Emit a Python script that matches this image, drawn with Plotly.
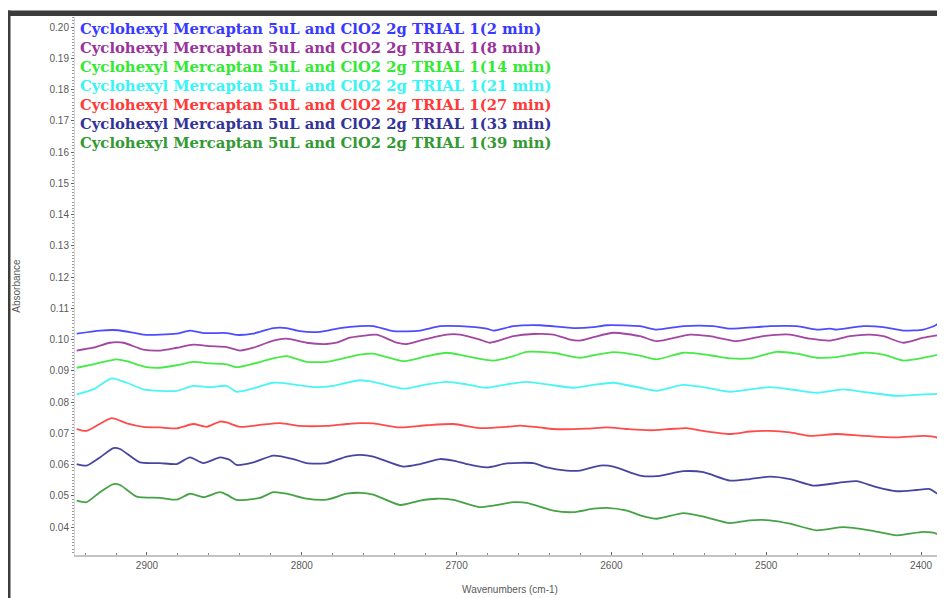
import plotly.graph_objects as go

# ---------------- data ----------------
labels = [
    "Cyclohexyl Mercaptan 5uL and ClO2 2g TRIAL 1(2 min)",
    "Cyclohexyl Mercaptan 5uL and ClO2 2g TRIAL 1(8 min)",
    "Cyclohexyl Mercaptan 5uL and ClO2 2g TRIAL 1(14 min)",
    "Cyclohexyl Mercaptan 5uL and ClO2 2g TRIAL 1(21 min)",
    "Cyclohexyl Mercaptan 5uL and ClO2 2g TRIAL 1(27 min)",
    "Cyclohexyl Mercaptan 5uL and ClO2 2g TRIAL 1(33 min)",
    "Cyclohexyl Mercaptan 5uL and ClO2 2g TRIAL 1(39 min)",
]
colors = ["#3a3aff", "#993399", "#33e833", "#38f4f4", "#ff3838", "#333399", "#339933"]

wn_2min = [2945.4, 2930.4, 2918.5, 2902.4, 2891.6, 2880.8, 2872.2, 2863.6, 2848.5, 2842.1, 2831.3,
           2818.4, 2809.8, 2801.2, 2788.2, 2775.3, 2762.4, 2753.8, 2740.8, 2723.6, 2710.7, 2697.8,
           2680.6, 2676.2, 2663.3, 2646.1, 2624.6, 2611.6, 2603.0, 2581.5, 2570.8, 2553.5, 2534.2,
           2523.4, 2506.2, 2497.6, 2480.3, 2467.4, 2458.8, 2454.5, 2437.3, 2424.3, 2411.4, 2398.5,
           2389.9, 2384.5]
abs_2min = [0.1019, 0.1029, 0.1030, 0.1016, 0.1016, 0.1019, 0.1029, 0.1021, 0.1021, 0.1015, 0.1019,
            0.1037, 0.1037, 0.1027, 0.1025, 0.1037, 0.1043, 0.1043, 0.1027, 0.1029, 0.1043, 0.1043,
            0.1035, 0.1029, 0.1043, 0.1046, 0.1037, 0.1040, 0.1046, 0.1043, 0.1032, 0.1043, 0.1043,
            0.1035, 0.1040, 0.1043, 0.1043, 0.1032, 0.1035, 0.1032, 0.1043, 0.1040, 0.1029, 0.1032,
            0.1048, 0.1084]

wn_8min = [2945.4, 2934.7, 2923.9, 2915.3, 2902.4, 2891.6, 2880.8, 2870.1, 2859.3, 2848.5, 2839.9,
           2831.3, 2818.4, 2809.8, 2796.9, 2784.0, 2777.5, 2769.0, 2762.4, 2751.6, 2738.7, 2732.2,
           2723.6, 2706.4, 2697.8, 2684.9, 2678.4, 2663.3, 2650.4, 2637.5, 2626.7, 2620.3, 2611.6,
           2598.7, 2581.5, 2570.8, 2549.2, 2536.3, 2519.1, 2501.9, 2484.6, 2471.7, 2458.8, 2445.9,
           2433.0, 2424.3, 2411.4, 2398.5, 2387.7, 2384.5]
abs_8min = [0.0965, 0.0974, 0.0990, 0.0990, 0.0968, 0.0965, 0.0974, 0.0984, 0.0979, 0.0976, 0.0965,
            0.0974, 0.0997, 0.1003, 0.0990, 0.0986, 0.0990, 0.1006, 0.1011, 0.1016, 0.0990, 0.0986,
            0.0997, 0.1016, 0.1016, 0.1000, 0.0990, 0.1011, 0.1018, 0.1016, 0.1000, 0.0997, 0.1008,
            0.1022, 0.1011, 0.0995, 0.1016, 0.1011, 0.0995, 0.1011, 0.1016, 0.1003, 0.0997, 0.1011,
            0.1016, 0.1011, 0.0990, 0.1006, 0.1016, 0.1027]

wn_14min = [2945.4, 2934.7, 2919.6, 2913.1, 2900.2, 2891.6, 2880.8, 2870.1, 2859.3, 2848.5, 2842.1,
            2831.3, 2818.4, 2809.8, 2796.9, 2784.0, 2773.2, 2762.4, 2753.8, 2734.4, 2719.3, 2706.4,
            2693.5, 2676.2, 2663.3, 2654.7, 2637.5, 2620.3, 2611.6, 2598.7, 2581.5, 2570.8, 2553.5,
            2536.3, 2523.4, 2510.5, 2493.3, 2480.3, 2467.4, 2454.5, 2437.3, 2424.3, 2411.4, 2398.5,
            2387.7, 2384.5]
abs_14min = [0.0910, 0.0921, 0.0937, 0.0931, 0.0912, 0.0910, 0.0918, 0.0929, 0.0924, 0.0921, 0.0912,
             0.0923, 0.0940, 0.0947, 0.0929, 0.0929, 0.0940, 0.0952, 0.0955, 0.0931, 0.0947, 0.0958,
             0.0947, 0.0933, 0.0947, 0.0961, 0.0958, 0.0942, 0.0950, 0.0960, 0.0949, 0.0937, 0.0958,
             0.0950, 0.0940, 0.0940, 0.0961, 0.0955, 0.0942, 0.0944, 0.0958, 0.0952, 0.0933, 0.0942,
             0.0955, 0.0979]

wn_21min = [2945.4, 2934.7, 2922.8, 2913.1, 2902.4, 2891.6, 2880.8, 2870.1, 2859.3, 2848.5, 2842.1,
            2831.3, 2818.4, 2805.5, 2792.5, 2779.6, 2771.0, 2762.4, 2753.8, 2734.4, 2719.3, 2706.4,
            2693.5, 2680.6, 2667.6, 2654.7, 2641.8, 2624.6, 2611.6, 2598.7, 2581.5, 2570.8, 2553.5,
            2536.3, 2523.4, 2510.5, 2497.6, 2480.3, 2467.4, 2450.2, 2437.3, 2415.7, 2398.5, 2384.5]
abs_21min = [0.0825, 0.0841, 0.0876, 0.0862, 0.0841, 0.0836, 0.0836, 0.0852, 0.0848, 0.0852, 0.0833,
             0.0844, 0.0862, 0.0857, 0.0848, 0.0852, 0.0862, 0.0870, 0.0865, 0.0843, 0.0857, 0.0865,
             0.0857, 0.0846, 0.0857, 0.0865, 0.0857, 0.0846, 0.0855, 0.0862, 0.0846, 0.0836, 0.0855,
             0.0844, 0.0833, 0.0841, 0.0848, 0.0838, 0.0830, 0.0841, 0.0833, 0.0820, 0.0825, 0.0827]

wn_27min = [2945.4, 2939.0, 2922.8, 2913.1, 2902.4, 2891.6, 2880.8, 2870.1, 2861.5, 2852.8, 2848.5,
            2839.9, 2827.0, 2814.1, 2801.2, 2784.0, 2771.0, 2762.4, 2753.8, 2736.5, 2719.3, 2702.1,
            2684.9, 2667.6, 2659.0, 2646.1, 2637.5, 2616.0, 2603.0, 2590.1, 2575.1, 2562.2, 2551.4,
            2540.6, 2523.4, 2510.5, 2497.6, 2484.6, 2471.7, 2454.5, 2437.3, 2415.7, 2398.5, 2389.9,
            2384.5]
abs_27min = [0.0714, 0.0708, 0.0749, 0.0732, 0.0721, 0.0719, 0.0716, 0.0730, 0.0721, 0.0738, 0.0735,
             0.0721, 0.0727, 0.0733, 0.0724, 0.0724, 0.0730, 0.0733, 0.0732, 0.0719, 0.0726, 0.0730,
             0.0717, 0.0721, 0.0725, 0.0719, 0.0714, 0.0715, 0.0719, 0.0714, 0.0710, 0.0714, 0.0717,
             0.0708, 0.0698, 0.0706, 0.0708, 0.0703, 0.0692, 0.0698, 0.0692, 0.0687, 0.0692, 0.0687,
             0.0668]

wn_33min = [2945.4, 2939.0, 2930.4, 2921.7, 2917.4, 2904.5, 2891.6, 2880.8, 2872.2, 2863.6, 2852.8,
            2846.4, 2842.1, 2831.3, 2818.4, 2805.5, 2796.9, 2784.0, 2771.0, 2762.4, 2753.8, 2734.4,
            2723.6, 2710.7, 2702.1, 2693.5, 2680.6, 2667.6, 2650.4, 2641.8, 2628.9, 2620.3, 2607.3,
            2598.7, 2581.5, 2570.8, 2553.5, 2540.6, 2523.4, 2510.5, 2497.6, 2484.6, 2469.6, 2450.2,
            2441.6, 2428.7, 2415.7, 2402.8, 2394.2, 2387.7, 2384.5]
abs_33min = [0.0602, 0.0597, 0.0623, 0.0653, 0.0650, 0.0607, 0.0605, 0.0602, 0.0623, 0.0605, 0.0623,
             0.0615, 0.0599, 0.0607, 0.0629, 0.0618, 0.0605, 0.0605, 0.0626, 0.0631, 0.0626, 0.0594,
             0.0602, 0.0618, 0.0613, 0.0602, 0.0591, 0.0604, 0.0605, 0.0591, 0.0581, 0.0581, 0.0597,
             0.0594, 0.0565, 0.0563, 0.0579, 0.0576, 0.0549, 0.0554, 0.0562, 0.0554, 0.0533, 0.0544,
             0.0547, 0.0528, 0.0515, 0.0519, 0.0522, 0.0501, 0.0495]

wn_39min = [2945.4, 2939.0, 2930.4, 2921.7, 2917.4, 2906.7, 2891.6, 2880.8, 2872.2, 2863.6, 2852.8,
            2848.5, 2842.1, 2827.0, 2818.4, 2809.8, 2796.9, 2784.0, 2771.0, 2762.4, 2753.8, 2736.5,
            2723.6, 2712.9, 2702.1, 2684.9, 2676.2, 2663.3, 2654.7, 2637.5, 2624.6, 2611.6, 2603.0,
            2590.1, 2581.5, 2570.8, 2553.5, 2540.6, 2523.4, 2510.5, 2497.6, 2484.6, 2467.4, 2450.2,
            2433.0, 2415.7, 2398.5, 2389.9, 2384.5]
abs_39min = [0.0485, 0.0480, 0.0512, 0.0538, 0.0535, 0.0498, 0.0494, 0.0488, 0.0507, 0.0496, 0.0512,
             0.0504, 0.0487, 0.0494, 0.0512, 0.0507, 0.0491, 0.0488, 0.0507, 0.0510, 0.0504, 0.0471,
             0.0485, 0.0491, 0.0487, 0.0464, 0.0469, 0.0480, 0.0478, 0.0453, 0.0448, 0.0459, 0.0462,
             0.0453, 0.0438, 0.0427, 0.0445, 0.0434, 0.0413, 0.0422, 0.0422, 0.0411, 0.0390, 0.0400,
             0.0390, 0.0374, 0.0385, 0.0379, 0.0358]

series_x = [wn_2min, wn_8min, wn_14min, wn_21min, wn_27min, wn_33min, wn_39min]
series_y = [abs_2min, abs_8min, abs_14min, abs_21min, abs_27min, abs_33min, abs_39min]

x_title = "Wavenumbers (cm-1)"
y_title = "Absorbance"

# ---------------- layout geometry ----------------
# the page body adds an 8px margin, so the figure is made 8px smaller and
# all page-pixel positions are shifted by that offset
OFF = 8
W, H = 945 - OFF, 598 - OFF
L, R, T, B = 75 - OFF, 0, 17 - OFF, 43
PW, PH = W - L - R, H - T - B


def px_x(page_px):
    return (page_px - OFF - L) / PW


def px_y(page_py):
    return (H - B - (page_py - OFF)) / PH


fig = go.Figure()
for xs, ys, name, c in zip(series_x, series_y, labels, colors):
    fig.add_trace(go.Scatter(x=xs, y=ys, mode="lines", name=name,
                             line=dict(color=c, width=1.8, shape="spline", smoothing=0.6),
                             opacity=0.9, showlegend=False))

# legend as coloured text lines
for i, (name, c) in enumerate(zip(labels, colors)):
    fig.add_annotation(text="<b>" + name + "</b>", xref="paper", yref="paper",
                       x=px_x(78), y=px_y(28.3 + 19.07 * i), xanchor="left", yanchor="middle",
                       showarrow=False,
                       font=dict(family="DejaVu Serif, Liberation Serif, serif", size=14.8, color=c))

# screenshot frame (dark bands at top and left)
fig.add_shape(type="rect", xref="paper", yref="paper", x0=px_x(0), x1=px_x(960),
              y0=px_y(16), y1=px_y(10.5), fillcolor="#3c3c3c", line=dict(width=0), layer="above")
fig.add_shape(type="rect", xref="paper", yref="paper", x0=px_x(8), x1=px_x(10.5),
              y0=px_y(610), y1=px_y(10.5), fillcolor="#3c3c3c", line=dict(width=0), layer="above")

tick_font = dict(family="Liberation Sans, Arial, sans-serif", size=10, color="#5a5a5a")

fig.update_layout(
    width=W, height=H,
    margin=dict(l=L, r=R, t=T, b=B, pad=0),
    paper_bgcolor="white", plot_bgcolor="white",
    xaxis=dict(range=[2946.5, 2384.5], tickmode="linear", tick0=2400, dtick=100,
               showgrid=False, zeroline=False, showline=True, linecolor="#c4c4c4", linewidth=2,
               ticks="inside", ticklen=3, tickcolor="#666", tickfont=tick_font,
               minor=dict(dtick=20, ticks="inside", ticklen=2, tickcolor="#888"),
               title=dict(text=x_title, font=dict(family="Liberation Sans, Arial, sans-serif",
                                                  size=10, color="#5a5a5a"), standoff=16)),
    yaxis=dict(range=[0.0311, 0.2032], tickmode="linear", tick0=0.04, dtick=0.01,
               tickformat=".2f", showgrid=False, zeroline=False, showline=True,
               linecolor="#d6d6d6", linewidth=1, ticks="outside", ticklen=3, tickcolor="#666",
               tickfont=tick_font,
               minor=dict(dtick=0.001, ticks="outside", ticklen=2, tickcolor="#999"),
               title=dict(text=y_title, font=dict(family="Liberation Sans, Arial, sans-serif",
                                                  size=10, color="#5a5a5a"), standoff=27)),
)

fig.write_html("out.html")
